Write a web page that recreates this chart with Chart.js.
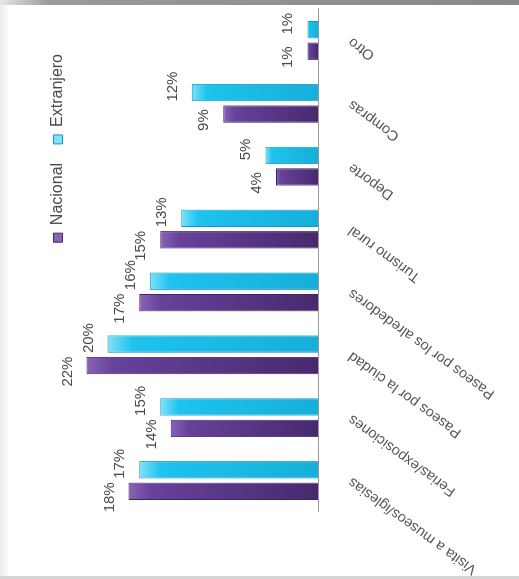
<!DOCTYPE html>
<html lang="es">
<head>
  <meta charset="UTF-8">
  <title>Actividades realizadas</title>
  <script src="https://cdn.jsdelivr.net/npm/chart.js"></script>
  <style>
    body {
      margin: 0;
      width: 519px;
      height: 579px;
      overflow: hidden;
      background: #fff;
      position: relative;
    }
    #wrap {
      position: absolute;
      left: 0;
      top: 0;
      width: 579px;
      height: 519px;
      transform-origin: 0 0;
      transform: translateY(579px) rotate(-90deg);
    }
    #topband {
      position: absolute;
      left: 0; top: 0;
      width: 519px; height: 5px;
      background: linear-gradient(to right, #e6e6e6 0px, #9a9a9a 50px, #888 100%);
    }
    #leftband {
      position: absolute;
      left: 0; top: 5px;
      width: 10px; height: 572px;
      background: linear-gradient(to right, #ececec, #fff);
    }
    #bottomband {
      position: absolute;
      left: 0; top: 576px;
      width: 519px; height: 3px;
      background: #d6d6d6;
    }
  </style>
</head>
<body>
  <div id="wrap"><canvas id="chart" width="579" height="519"></canvas></div>
  <div id="topband"></div>
  <div id="leftband"></div>
  <div id="bottomband"></div>

  <script>
    const categories = [
      'Visita a museos/iglesias',
      'Ferias/exposiciones',
      'Paseos por la ciudad',
      'Paseos por los alrededores',
      'Turismo rural',
      'Deporte',
      'Compras',
      'Otro'
    ];
    const nacional = [18, 14, 22, 17, 15, 4, 9, 1];
    const extranjero = [17, 15, 20, 16, 13, 5, 12, 1];

    const FONT = '"Liberation Sans", Arial, sans-serif';
    const TEXT = '#4a4a4a';

    // 3d-ish fill: lighter at the bar end, darker at the base
    function barFill(light, mid, dark) {
      return (c) => {
        const chart = c.chart;
        if (!chart.chartArea || c.raw == null) return mid;
        const y = chart.scales.y;
        const top = y.getPixelForValue(c.raw);
        const base = y.getPixelForValue(0);
        const g = chart.ctx.createLinearGradient(0, top, 0, base);
        g.addColorStop(0, light);
        g.addColorStop(0.12, mid);
        g.addColorStop(1, dark);
        return g;
      };
    }

    const valueLabels = {
      id: 'valueLabels',
      afterDatasetsDraw(chart) {
        const ctx = chart.ctx;
        ctx.save();
        ctx.font = '15px ' + FONT;
        ctx.fillStyle = TEXT;
        ctx.textAlign = 'center';
        ctx.textBaseline = 'alphabetic';
        chart.data.datasets.forEach((ds, i) => {
          const shift = i === 0 ? -6 : 6;
          chart.getDatasetMeta(i).data.forEach((bar, j) => {
            ctx.fillText(ds.data[j] + '%', bar.x + shift, bar.y - 15);
          });
        });
        ctx.restore();
      }
    };

    const legendShift = {
      id: 'legendShift',
      afterLayout(chart) {
        chart.legend.left -= 26;
        chart.legend.right -= 26;
      }
    };

    const ctx = document.getElementById('chart').getContext('2d');
    const chart = new Chart(ctx, {
      type: 'bar',
      data: {
        labels: categories,
        datasets: [{
          label: 'Nacional',
          data: nacional,
          backgroundColor: barFill('#8a62b8', '#66429a', '#48296e'),
          borderColor: '#3f2560',
          borderWidth: 1,
          categoryPercentage: 0.684,
          barPercentage: 0.81
        }, {
          label: 'Extranjero',
          data: extranjero,
          backgroundColor: barFill('#7fe2fa', '#1ec3ee', '#16afd9'),
          borderColor: '#1596bd',
          borderWidth: 1,
          categoryPercentage: 0.684,
          barPercentage: 0.81
        }]
      },
      options: {
        responsive: false,
        animation: false,
        layout: { padding: { top: 31, right: 9, bottom: 0, left: 0 } },
        plugins: {
          legend: {
            position: 'top',
            align: 'end',
            labels: {
              boxWidth: 9,
              boxHeight: 9,
              padding: 19,
              color: TEXT,
              font: { family: FONT, size: 16 }
            }
          },
          tooltip: { enabled: false }
        },
        scales: {
          x: {
            grid: { display: false },
            border: { display: true, color: '#9a9a9a', width: 1 },
            ticks: {
              color: '#555',
              font: { family: FONT, size: 14.5 },
              minRotation: 54,
              maxRotation: 54,
              padding: 19,
              autoSkip: false
            },
            afterFit(scale) {
              scale.height = 201;
              scale.paddingLeft = 67;
              scale.paddingRight = 0;
            }
          },
          y: { display: false, min: 0, max: 23 }
        }
      },
      plugins: [valueLabels, legendShift]
    });
  </script>
</body>
</html>
